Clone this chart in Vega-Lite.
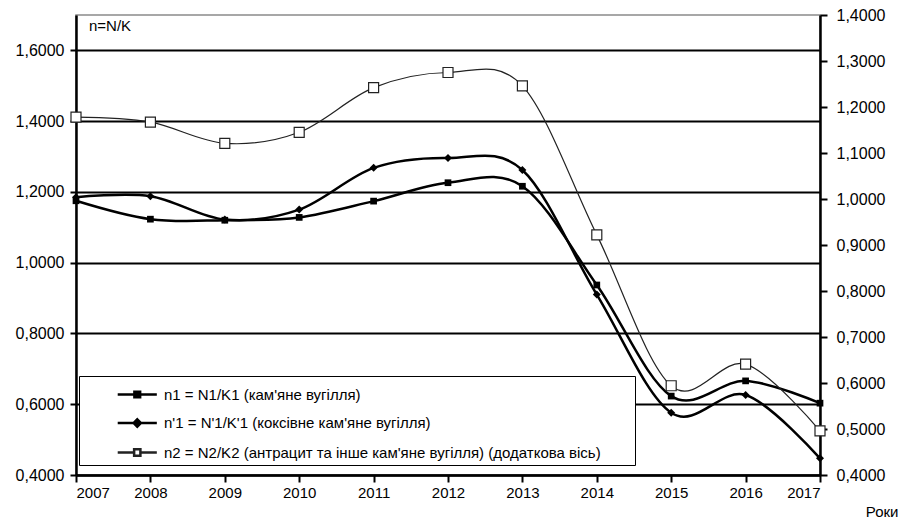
{
  "$schema": "https://vega.github.io/schema/vega-lite/v6.json",
  "autosize": "none",
  "width": 744,
  "height": 460,
  "padding": {"left": 76, "top": 15, "right": 80, "bottom": 45},
  "background": "white",
  "config": {
    "font": "Liberation Sans",
    "view": {"stroke": "#8a8a8a", "strokeWidth": 1.5},
    "axis": {"labelFont": "Liberation Sans", "labelColor": "black", "tickColor": "black", "domainColor": "black", "titleFont": "Liberation Sans", "titleColor": "black"}
  },
  "title": {"text": "n=N/K", "anchor": "start", "frame": "group", "offset": -27, "dx": 13, "fontSize": 15, "fontWeight": "normal", "color": "black", "font": "Liberation Sans"},
  "data": {
    "values": [
      {"year": 2007, "id": "n1", "series": "n1 = N1/K1 (кам'яне вугілля)", "value": 1.175},
      {"year": 2008, "id": "n1", "series": "n1 = N1/K1 (кам'яне вугілля)", "value": 1.123},
      {"year": 2009, "id": "n1", "series": "n1 = N1/K1 (кам'яне вугілля)", "value": 1.120},
      {"year": 2010, "id": "n1", "series": "n1 = N1/K1 (кам'яне вугілля)", "value": 1.128},
      {"year": 2011, "id": "n1", "series": "n1 = N1/K1 (кам'яне вугілля)", "value": 1.174},
      {"year": 2012, "id": "n1", "series": "n1 = N1/K1 (кам'яне вугілля)", "value": 1.226},
      {"year": 2013, "id": "n1", "series": "n1 = N1/K1 (кам'яне вугілля)", "value": 1.216},
      {"year": 2014, "id": "n1", "series": "n1 = N1/K1 (кам'яне вугілля)", "value": 0.937},
      {"year": 2015, "id": "n1", "series": "n1 = N1/K1 (кам'яне вугілля)", "value": 0.623},
      {"year": 2016, "id": "n1", "series": "n1 = N1/K1 (кам'яне вугілля)", "value": 0.666},
      {"year": 2017, "id": "n1", "series": "n1 = N1/K1 (кам'яне вугілля)", "value": 0.603},
      {"year": 2007, "id": "n1p", "series": "n'1 = N'1/K'1 (коксівне кам'яне вугілля)", "value": 1.185},
      {"year": 2008, "id": "n1p", "series": "n'1 = N'1/K'1 (коксівне кам'яне вугілля)", "value": 1.188},
      {"year": 2009, "id": "n1p", "series": "n'1 = N'1/K'1 (коксівне кам'яне вугілля)", "value": 1.122},
      {"year": 2010, "id": "n1p", "series": "n'1 = N'1/K'1 (коксівне кам'яне вугілля)", "value": 1.150},
      {"year": 2011, "id": "n1p", "series": "n'1 = N'1/K'1 (коксівне кам'яне вугілля)", "value": 1.268},
      {"year": 2012, "id": "n1p", "series": "n'1 = N'1/K'1 (коксівне кам'яне вугілля)", "value": 1.296},
      {"year": 2013, "id": "n1p", "series": "n'1 = N'1/K'1 (коксівне кам'яне вугілля)", "value": 1.262},
      {"year": 2014, "id": "n1p", "series": "n'1 = N'1/K'1 (коксівне кам'яне вугілля)", "value": 0.910},
      {"year": 2015, "id": "n1p", "series": "n'1 = N'1/K'1 (коксівне кам'яне вугілля)", "value": 0.576},
      {"year": 2016, "id": "n1p", "series": "n'1 = N'1/K'1 (коксівне кам'яне вугілля)", "value": 0.626},
      {"year": 2017, "id": "n1p", "series": "n'1 = N'1/K'1 (коксівне кам'яне вугілля)", "value": 0.447},
      {"year": 2007, "id": "n2", "series": "n2 = N2/K2 (антрацит та інше кам'яне вугілля) (додаткова вісь)", "value": 1.178},
      {"year": 2008, "id": "n2", "series": "n2 = N2/K2 (антрацит та інше кам'яне вугілля) (додаткова вісь)", "value": 1.167},
      {"year": 2009, "id": "n2", "series": "n2 = N2/K2 (антрацит та інше кам'яне вугілля) (додаткова вісь)", "value": 1.121},
      {"year": 2010, "id": "n2", "series": "n2 = N2/K2 (антрацит та інше кам'яне вугілля) (додаткова вісь)", "value": 1.145},
      {"year": 2011, "id": "n2", "series": "n2 = N2/K2 (антрацит та інше кам'яне вугілля) (додаткова вісь)", "value": 1.242},
      {"year": 2012, "id": "n2", "series": "n2 = N2/K2 (антрацит та інше кам'яне вугілля) (додаткова вісь)", "value": 1.275},
      {"year": 2013, "id": "n2", "series": "n2 = N2/K2 (антрацит та інше кам'яне вугілля) (додаткова вісь)", "value": 1.246},
      {"year": 2014, "id": "n2", "series": "n2 = N2/K2 (антрацит та інше кам'яне вугілля) (додаткова вісь)", "value": 0.922},
      {"year": 2015, "id": "n2", "series": "n2 = N2/K2 (антрацит та інше кам'яне вугілля) (додаткова вісь)", "value": 0.594},
      {"year": 2016, "id": "n2", "series": "n2 = N2/K2 (антрацит та інше кам'яне вугілля) (додаткова вісь)", "value": 0.641},
      {"year": 2017, "id": "n2", "series": "n2 = N2/K2 (антрацит та інше кам'яне вугілля) (додаткова вісь)", "value": 0.496}
    ]
  },
  "encoding": {
    "x": {
      "field": "year", "type": "quantitative",
      "scale": {"domain": [2007, 2017], "nice": false, "zero": false},
      "axis": {
        "title": "Роки", "values": [2007, 2008, 2009, 2010, 2011, 2012, 2013, 2014, 2015, 2016, 2017],
        "format": "d", "tickSize": 7, "tickWidth": 2, "domainWidth": 2.5, "labelPadding": 3, "grid": false,
        "labelFontSize": 15, "titleX": 822, "titleY": 41, "titleAlign": "right", "titleBaseline": "alphabetic",
        "titleFontWeight": "normal", "titleFontSize": 15
      }
    }
  },
  "layer": [
    {
      "encoding": {
        "y": {
          "field": "value", "type": "quantitative",
          "scale": {"domain": [0.4, 1.7], "nice": false, "zero": false},
          "axis": {
            "title": null, "orient": "left", "values": [0.4, 0.6, 0.8, 1.0, 1.2, 1.4, 1.6],
            "labelExpr": "replace(format(datum.value, '.4f'), '.', ',')",
            "grid": true, "gridColor": "black", "gridWidth": 2, "gridOpacity": 1,
            "domainWidth": 2.5, "tickSize": 6, "tickWidth": 2, "labelFontSize": 16, "labelPadding": 6
          }
        }
      },
      "layer": [
        {
          "transform": [{"filter": "datum.id != 'n2'"}],
          "mark": {"type": "line", "interpolate": "cardinal", "color": "black", "strokeWidth": 2.5},
          "encoding": {"detail": {"field": "id", "type": "nominal"}}
        },
        {
          "transform": [{"filter": "datum.id == 'n1'"}],
          "mark": {"type": "point", "shape": "square", "filled": true, "color": "black", "opacity": 1, "size": 45}
        },
        {
          "transform": [{"filter": "datum.id == 'n1p'"}],
          "mark": {"type": "point", "shape": "diamond", "filled": true, "color": "black", "opacity": 1, "size": 64}
        },
        {
          "transform": [{"filter": "datum.year == 2007"}],
          "mark": {"type": "point", "opacity": 0},
          "encoding": {
            "shape": {
              "field": "series", "type": "nominal",
              "scale": {
                "domain": ["n1 = N1/K1 (кам'яне вугілля)", "n'1 = N'1/K'1 (коксівне кам'яне вугілля)", "n2 = N2/K2 (антрацит та інше кам'яне вугілля) (додаткова вісь)"],
                "range": ["M1.55,0H4.55M2.83,-0.22H3.27V0.22H2.83ZM40.5,0", "M1.55,0H4.55M3.05,-0.28L3.33,0L3.05,0.28L2.77,0ZM40.5,0", "M1.55,0H2.81M3.29,0H4.55M2.81,-0.24H3.29V0.24H2.81ZM40.5,0"]
              },
              "legend": {
                "title": null, "orient": "none", "legendX": 3, "legendY": 361, "direction": "vertical",
                "symbolSize": 680, "symbolStrokeColor": "black", "symbolOpacity": 1,
                "labelFontSize": 15, "labelColor": "black", "labelFont": "Liberation Sans", "labelOffset": 52, "labelLimit": 0,
                "rowPadding": 5.5, "padding": 4, "strokeColor": "black", "fillColor": "white"
              }
            },
            "fill": {
              "field": "series", "type": "nominal",
              "scale": {
                "domain": ["n1 = N1/K1 (кам'яне вугілля)", "n'1 = N'1/K'1 (коксівне кам'яне вугілля)", "n2 = N2/K2 (антрацит та інше кам'яне вугілля) (додаткова вісь)"],
                "range": ["black", "black", "white"]
              }
            },
            "stroke": {
              "field": "series", "type": "nominal",
              "scale": {
                "domain": ["n1 = N1/K1 (кам'яне вугілля)", "n'1 = N'1/K'1 (коксівне кам'яне вугілля)", "n2 = N2/K2 (антрацит та інше кам'яне вугілля) (додаткова вісь)"],
                "range": ["black", "black", "#222222"]
              }
            },
            "strokeWidth": {
              "field": "series", "type": "nominal",
              "scale": {
                "domain": ["n1 = N1/K1 (кам'яне вугілля)", "n'1 = N'1/K'1 (коксівне кам'яне вугілля)", "n2 = N2/K2 (антрацит та інше кам'яне вугілля) (додаткова вісь)"],
                "range": [2.5, 2.5, 1]
              }
            }
          }
        }
      ]
    },
    {
      "encoding": {
        "y": {
          "field": "value", "type": "quantitative",
          "scale": {"domain": [0.4, 1.4], "nice": false, "zero": false},
          "axis": {
            "title": null, "orient": "right", "values": [0.4, 0.5, 0.6, 0.7, 0.8, 0.9, 1.0, 1.1, 1.2, 1.3, 1.4],
            "labelExpr": "replace(format(datum.value, '.4f'), '.', ',')",
            "grid": false, "domainWidth": 2.5, "tickSize": 7, "tickWidth": 2, "labelFontSize": 16, "labelPadding": 9
          }
        }
      },
      "layer": [
        {
          "transform": [{"filter": "datum.id == 'n2'"}],
          "mark": {"type": "line", "interpolate": "cardinal", "color": "#222222", "strokeWidth": 1.2}
        },
        {
          "transform": [{"filter": "datum.id == 'n2'"}],
          "mark": {"type": "point", "shape": "square", "filled": false, "fill": "white", "fillOpacity": 1, "stroke": "#222222", "strokeWidth": 1.2, "opacity": 1, "size": 100}
        }
      ]
    }
  ],
  "resolve": {"scale": {"y": "independent"}}
}
